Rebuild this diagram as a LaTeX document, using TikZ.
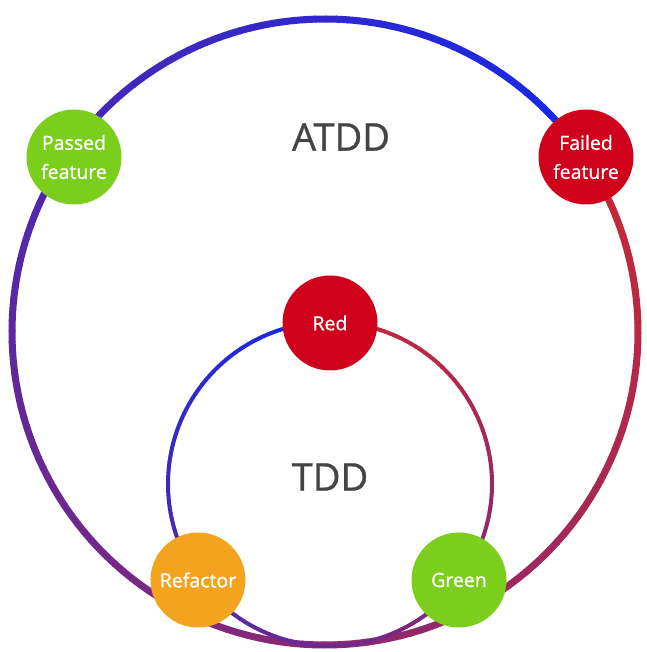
\documentclass[tikz,border=0pt]{standalone}
\usepackage{fontspec}
\setmainfont{Open Sans}
\newfontfamily\heavyfont{Open Sans}[FakeBold=0.9]
\definecolor{ringblue}{RGB}{18,40,236}
\definecolor{ringred}{RGB}{200,40,52}
\definecolor{badgegreen}{RGB}{124,206,28}
\definecolor{badgered}{RGB}{208,2,27}
\definecolor{badgeorange}{RGB}{244,163,30}
\definecolor{titlegray}{RGB}{68,68,68}
\begin{document}
\begin{tikzpicture}[x=1pt,y=1pt,
  badge/.style={circle, minimum size=95pt, inner sep=0pt, text=white,
    align=center, font=\heavyfont\fontsize{19.5}{29}\selectfont},
  title/.style={text=titlegray, font=\heavyfont\fontsize{38}{40}\selectfont}]
\useasboundingbox (0,0) rectangle (646,652);
\coordinate (outer) at (325,320);
\coordinate (inner) at (330,168);

% outer ring: blue to red, anticlockwise from the failed-feature badge
\foreach \i in {0,...,179}{
  \pgfmathtruncatemacro\p{100-\i/179*100}
  \pgfmathsetmacro\a{33.7+2*\i}
  \draw[line width=7pt, ringblue!\p!ringred]
    ([shift={(\a:313)}]outer) arc[start angle=\a, delta angle=2.2, radius=313];
}
% inner ring: blue to red, anticlockwise from the red badge
\foreach \i in {0,...,179}{
  \pgfmathtruncatemacro\p{100-\i/179*100}
  \pgfmathsetmacro\a{90+2*\i}
  \draw[line width=4pt, ringblue!\p!ringred]
    ([shift={(\a:162)}]inner) arc[start angle=\a, delta angle=2.2, radius=162];
}

\node[title] (atdd) at (341,515) {ATDD};
\node[title] (tdd) at (330,175) {TDD};

\node[badge, fill=badgegreen] (passed) at (74,495) {Passed\\feature};
\node[badge, fill=badgered] (failed) at (586,495) {Failed\\feature};
\node[badge, fill=badgered] (red) at (330,329) {Red};
\node[badge, fill=badgeorange] (refactor) at (198,72) {Refactor};
\node[badge, fill=badgegreen] (green) at (459,72) {Green};
\end{tikzpicture}
\end{document}
